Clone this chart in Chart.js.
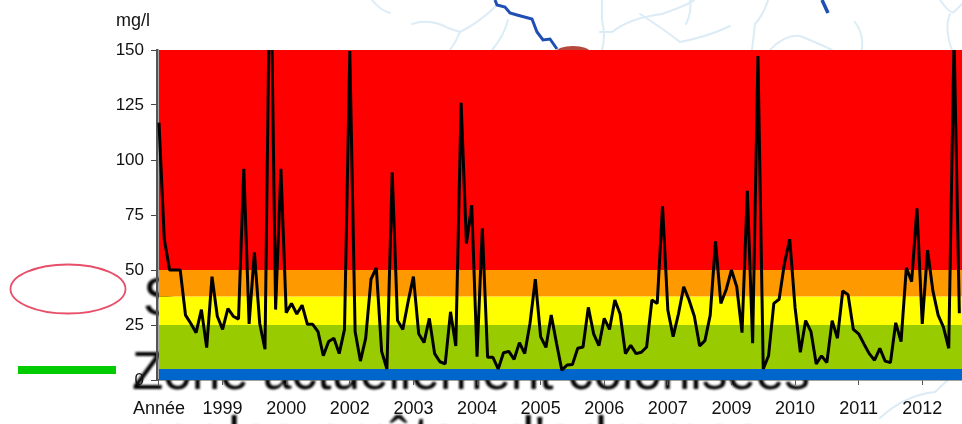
<!DOCTYPE html>
<html lang="fr">
<head>
<meta charset="utf-8">
<title>mg/l</title>
<script src="https://cdn.jsdelivr.net/npm/chart.js@4"></script>
<style>
  html, body { margin: 0; padding: 0; background: #fff; overflow: hidden; }
  #wrap { position: relative; width: 962px; height: 424px; font-family: "Liberation Sans", Arial, sans-serif; }
  #backdrop, #wrap canvas { position: absolute; left: 0; top: 0; }
  #unit { position: absolute; left: 116px; top: 10px; font-size: 18px; line-height: 20px; color: #111; }
</style>
</head>
<body>
<div id="wrap">
  <!-- bits of the map that sit behind the chart -->
  <svg id="backdrop" width="962" height="424" viewBox="0 0 962 424">
    <defs>
      <filter id="soft"><feGaussianBlur stdDeviation="0.9"></feGaussianBlur></filter>
      <filter id="pale"><feGaussianBlur stdDeviation="0.7"></feGaussianBlur></filter>
    </defs>
    <g fill="none" stroke="#dcecf6" stroke-width="2" stroke-linecap="round" filter="url(#pale)">
      <path d="M372 0 Q380 10 390 13"></path>
      <path d="M412 24 Q430 18 448 28 L460 32 Q480 22 496 6"></path>
      <path d="M460 32 Q456 42 450 50"></path>
      <path d="M508 20 Q504 36 492 50"></path>
      <path d="M602 50 Q606 36 602 20 L602 0"></path>
      <path d="M600 32 L612 32 Q630 18 662 14 Q690 4 694 0"></path>
      <path d="M640 14 Q665 30 680 42 Q710 36 730 26"></path>
      <path d="M690 0 Q692 12 686 24"></path>
      <path d="M768 0 Q764 14 755 24 L752 50"></path>
      <path d="M770 50 Q785 34 800 36 Q820 44 832 50"></path>
      <path d="M855 22 Q864 34 862 50"></path>
      <path d="M940 0 Q950 14 954 12 L962 4"></path>
      <path d="M950 14 Q944 28 952 50"></path>
      <path d="M880 418 Q905 395 935 392 L950 378"></path>
    </g>
    <polyline points="495,0 497,5 505,7 510,13 517,15 532,19 537,32 543,40 550,39 557,49" fill="none" stroke="#1f4fb4" stroke-width="3"></polyline>
    <path d="M822 0 L828 13" fill="none" stroke="#1f4fb4" stroke-width="3.5"></path>
    <ellipse cx="573" cy="52" rx="17" ry="6" fill="#b5483a"></ellipse>
    <ellipse cx="68" cy="289" rx="57.5" ry="24.5" fill="none" stroke="#e8506a" stroke-width="1.8"></ellipse>
    <rect x="18" y="366" width="98" height="8" fill="#00cc00"></rect>
    <g filter="url(#soft)" fill="#000" font-size="54" font-family="Liberation Sans, Arial, sans-serif">
      <text x="143" y="315">S</text>
      <text x="132" y="389" textLength="678" lengthAdjust="spacingAndGlyphs">Zone actuellement colonisées</text>
      <text x="132" y="454" textLength="630" lengthAdjust="spacingAndGlyphs">par les arrêtes d'adrames</text>
    </g>
  </svg>
  <canvas id="nitrateChart" width="962" height="424"></canvas>
  <div id="unit">mg/l</div>
</div>

<script>
const monthTicks = [0, 12, 24, 36, 48, 60, 72, 84, 96, 108, 120, 132, 144];
const tickLabels = ["Année", "1999", "2000", "2002", "2003", "2004", "2005", "2006", "2007", "2009", "2010", "2011", "2012"];
const yTicks = [0, 25, 50, 75, 100, 125, 150];

// classes de qualité : limites en mg/l et couleur de chaque bande
const bandLimits = [0, 5, 25, 38, 50, 150];
const bandColors = ["#0066cc", "#99cc00", "#ffff00", "#ff9900", "#ff0000"];

// une valeur par mois
const concentration = [
  117, 64, 50, 50, 50, 29.5, 25.7, 21.5, 32, 14.7, 47, 29,
  23, 32.5, 29, 27.7, 96, 25.5, 58, 25.7, 14, 210, 32, 96,
  30.6, 34.8, 30, 34, 25.3, 25.3, 22, 11, 17.5, 19, 12, 23,
  149.5, 22, 8.6, 19, 45.8, 51, 13, 5, 94.4, 27, 23, 35.6,
  47, 21, 17, 28, 12, 8.3, 7.3, 31, 15.5, 126, 62, 79.5,
  10.6, 69, 10.3, 10.3, 5, 12.4, 13, 9.4, 17, 12, 25.8, 45.8,
  19.7, 14.8, 29.5, 16.7, 4.5, 6.8, 7, 14.4, 15, 33, 21, 15.6,
  28, 23, 36.4, 30, 12, 15.8, 12, 12.6, 15, 36.4, 34.8, 79,
  31.8, 19.7, 30, 42.4, 36.4, 29, 15.5, 17.9, 29.5, 63, 34.8, 41,
  50, 42.4, 21.5, 86, 16.7, 147.3, 5, 11, 34.8, 36.7, 53, 64,
  33, 12.6, 27, 22, 7.3, 11, 7.9, 27, 19, 40.5, 38.8, 23,
  21, 16.4, 12, 9, 14.4, 8.6, 7.9, 26, 17.4, 51, 44.7, 78,
  25.5, 59, 40.6, 29.5, 24, 14.4, 156, 30.3
];

const textColor = "#111";

const bandsPlugin = {
  id: "bands",
  beforeDatasetsDraw(chart) {
    const { ctx, chartArea, scales } = chart;
    const left = scales.x.getPixelForValue(0);
    ctx.save();
    bandColors.forEach((color, i) => {
      const top = scales.y.getPixelForValue(bandLimits[i + 1]);
      const bottom = scales.y.getPixelForValue(bandLimits[i]);
      ctx.fillStyle = color;
      ctx.fillRect(left, top, chartArea.right - left, bottom - top);
    });
    ctx.restore();
  },
};

new Chart(document.getElementById("nitrateChart"), {
  type: "line",
  plugins: [bandsPlugin],
  data: {
    datasets: [
      {
        data: concentration.map((v, i) => ({ x: i, y: v })),
        borderColor: "#000",
        borderWidth: 3,
        borderJoinStyle: "bevel",
        pointRadius: 0,
        tension: 0,
      },
    ],
  },
  options: {
    responsive: false,
    animation: false,
    layout: { padding: { top: 50, left: 0, right: 0, bottom: 0 } },
    plugins: { legend: { display: false }, tooltip: { enabled: false } },
    scales: {
      x: {
        type: "linear",
        min: -0.377,
        max: 151.5,
        afterBuildTicks(scale) {
          scale.ticks = monthTicks.map((value) => ({ value }));
        },
        afterFit(scale) {
          scale.height = 44;
        },
        border: { color: "#444", width: 1.5 },
        grid: { drawOnChartArea: false, tickLength: 5, tickColor: "#555" },
        ticks: {
          autoSkip: false,
          maxRotation: 0,
          padding: 13,
          color: textColor,
          font: { family: "Liberation Sans", size: 18 },
          callback: (value, i) => tickLabels[i],
        },
      },
      y: {
        min: 0,
        max: 150,
        afterBuildTicks(scale) {
          scale.ticks = yTicks.map((value) => ({ value }));
        },
        afterFit(scale) {
          scale.width = 157;
        },
        border: { color: "#555", width: 2.5 },
        grid: { drawOnChartArea: false, tickLength: 6, tickColor: "#444" },
        ticks: {
          padding: 7,
          color: textColor,
          font: { family: "Liberation Sans", size: 17 },
        },
      },
    },
  },
});
</script>
</body>
</html>
